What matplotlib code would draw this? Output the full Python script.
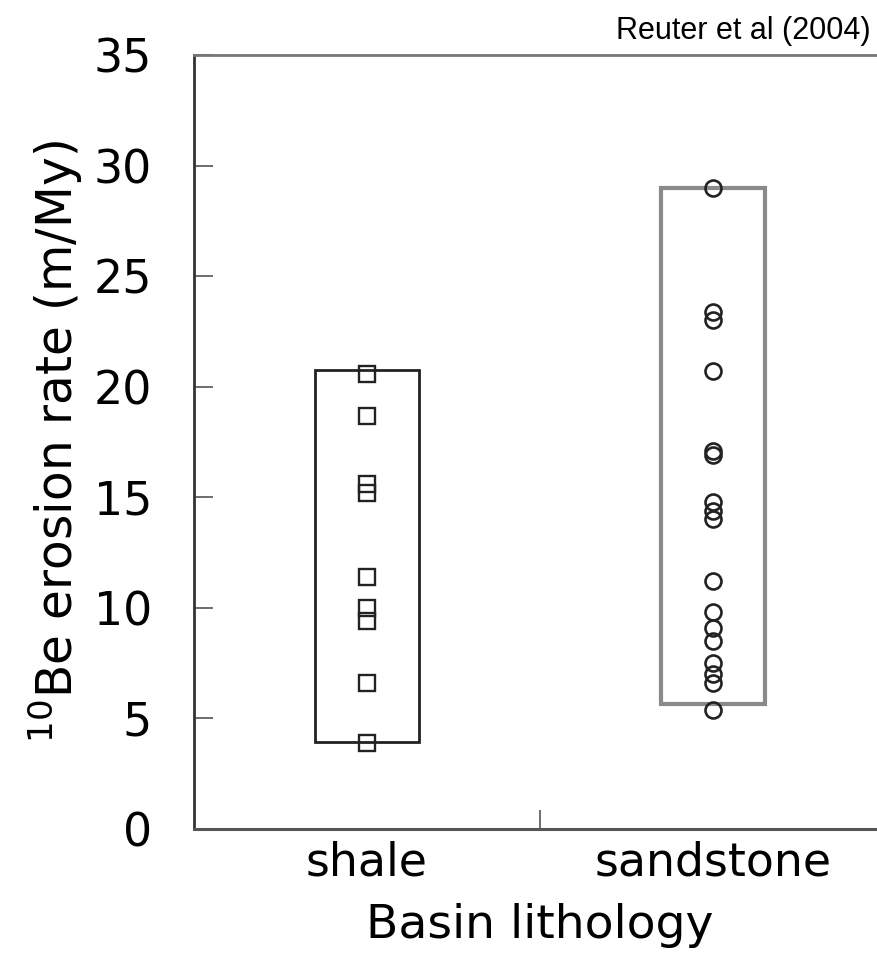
import matplotlib.pyplot as plt
import numpy as np

plt.rcParams['font.family'] = ['DejaVu Sans']
plt.rcParams['mathtext.default'] = 'regular'

# 10Be erosion rates (m/My) by basin lithology
categories = ['shale', 'sandstone']
shale = [20.6, 18.7, 15.6, 15.2, 11.4, 10.0, 9.4, 6.6, 3.9]
sandstone = [29.0, 23.4, 23.0, 20.7, 17.1, 16.9, 14.8, 14.4, 14.0,
             11.2, 9.8, 9.1, 8.5, 7.5, 7.0, 6.6, 5.4]
box_ranges = [(3.95, 20.75), (5.65, 29.0)]

fig = plt.figure(figsize=(8.77, 9.67), dpi=100)
ax = fig.add_axes([0.221, 0.1427, 0.789, 0.8003])

xpos = [0.5, 1.5]

# range boxes
box_w = 0.30
box_styles = [dict(edgecolor='#222222', lw=2.0), dict(edgecolor='#8a8a8a', lw=3.0)]
for x, (lo, hi), st in zip(xpos, box_ranges, box_styles):
    ax.add_patch(plt.Rectangle((x - box_w / 2, lo), box_w, hi - lo,
                               facecolor='none', zorder=2, **st))

ax.plot(np.full(len(shale), xpos[0]), shale, 's', ms=12, mfc='none',
        mec='#222222', mew=1.7, zorder=3)
ax.plot(np.full(len(sandstone), xpos[1]), sandstone, 'o', ms=11.5, mfc='none',
        mec='#222222', mew=1.9, zorder=3)

ax.set_xlim(0, 2)
ax.set_ylim(0, 35)
ax.set_yticks(np.arange(0, 36, 5))
ax.set_xticks([1])
ax.set_xticklabels([])
ax.set_xticks(xpos, minor=True)
ax.set_xticklabels(categories, minor=True)

ax.tick_params(axis='y', direction='in', length=14, width=1.2, pad=30,
               labelsize=33, color='#555555')
ax.tick_params(axis='x', which='major', direction='in', length=14, width=1.2,
               color='#555555')
ax.tick_params(axis='x', which='minor', length=0, pad=8, labelsize=33)

ax.spines['right'].set_visible(False)
ax.spines['top'].set_color('#777777')
ax.spines['top'].set_linewidth(2)
ax.spines['left'].set_color('#333333')
ax.spines['left'].set_linewidth(2)
ax.spines['bottom'].set_color('#555555')
ax.spines['bottom'].set_linewidth(2.2)

ax.set_ylabel('$^{10}$Be erosion rate (m/My)', fontsize=35, labelpad=6)
ax.set_xlabel('Basin lithology', fontsize=34, labelpad=8)
ax.xaxis.set_label_coords(0.5, -0.095)

fig.text(0.993, 0.968, 'Reuter et al (2004)', ha='right', va='center',
         fontsize=22, family='Liberation Sans')

fig.savefig('out.png', dpi=100)
